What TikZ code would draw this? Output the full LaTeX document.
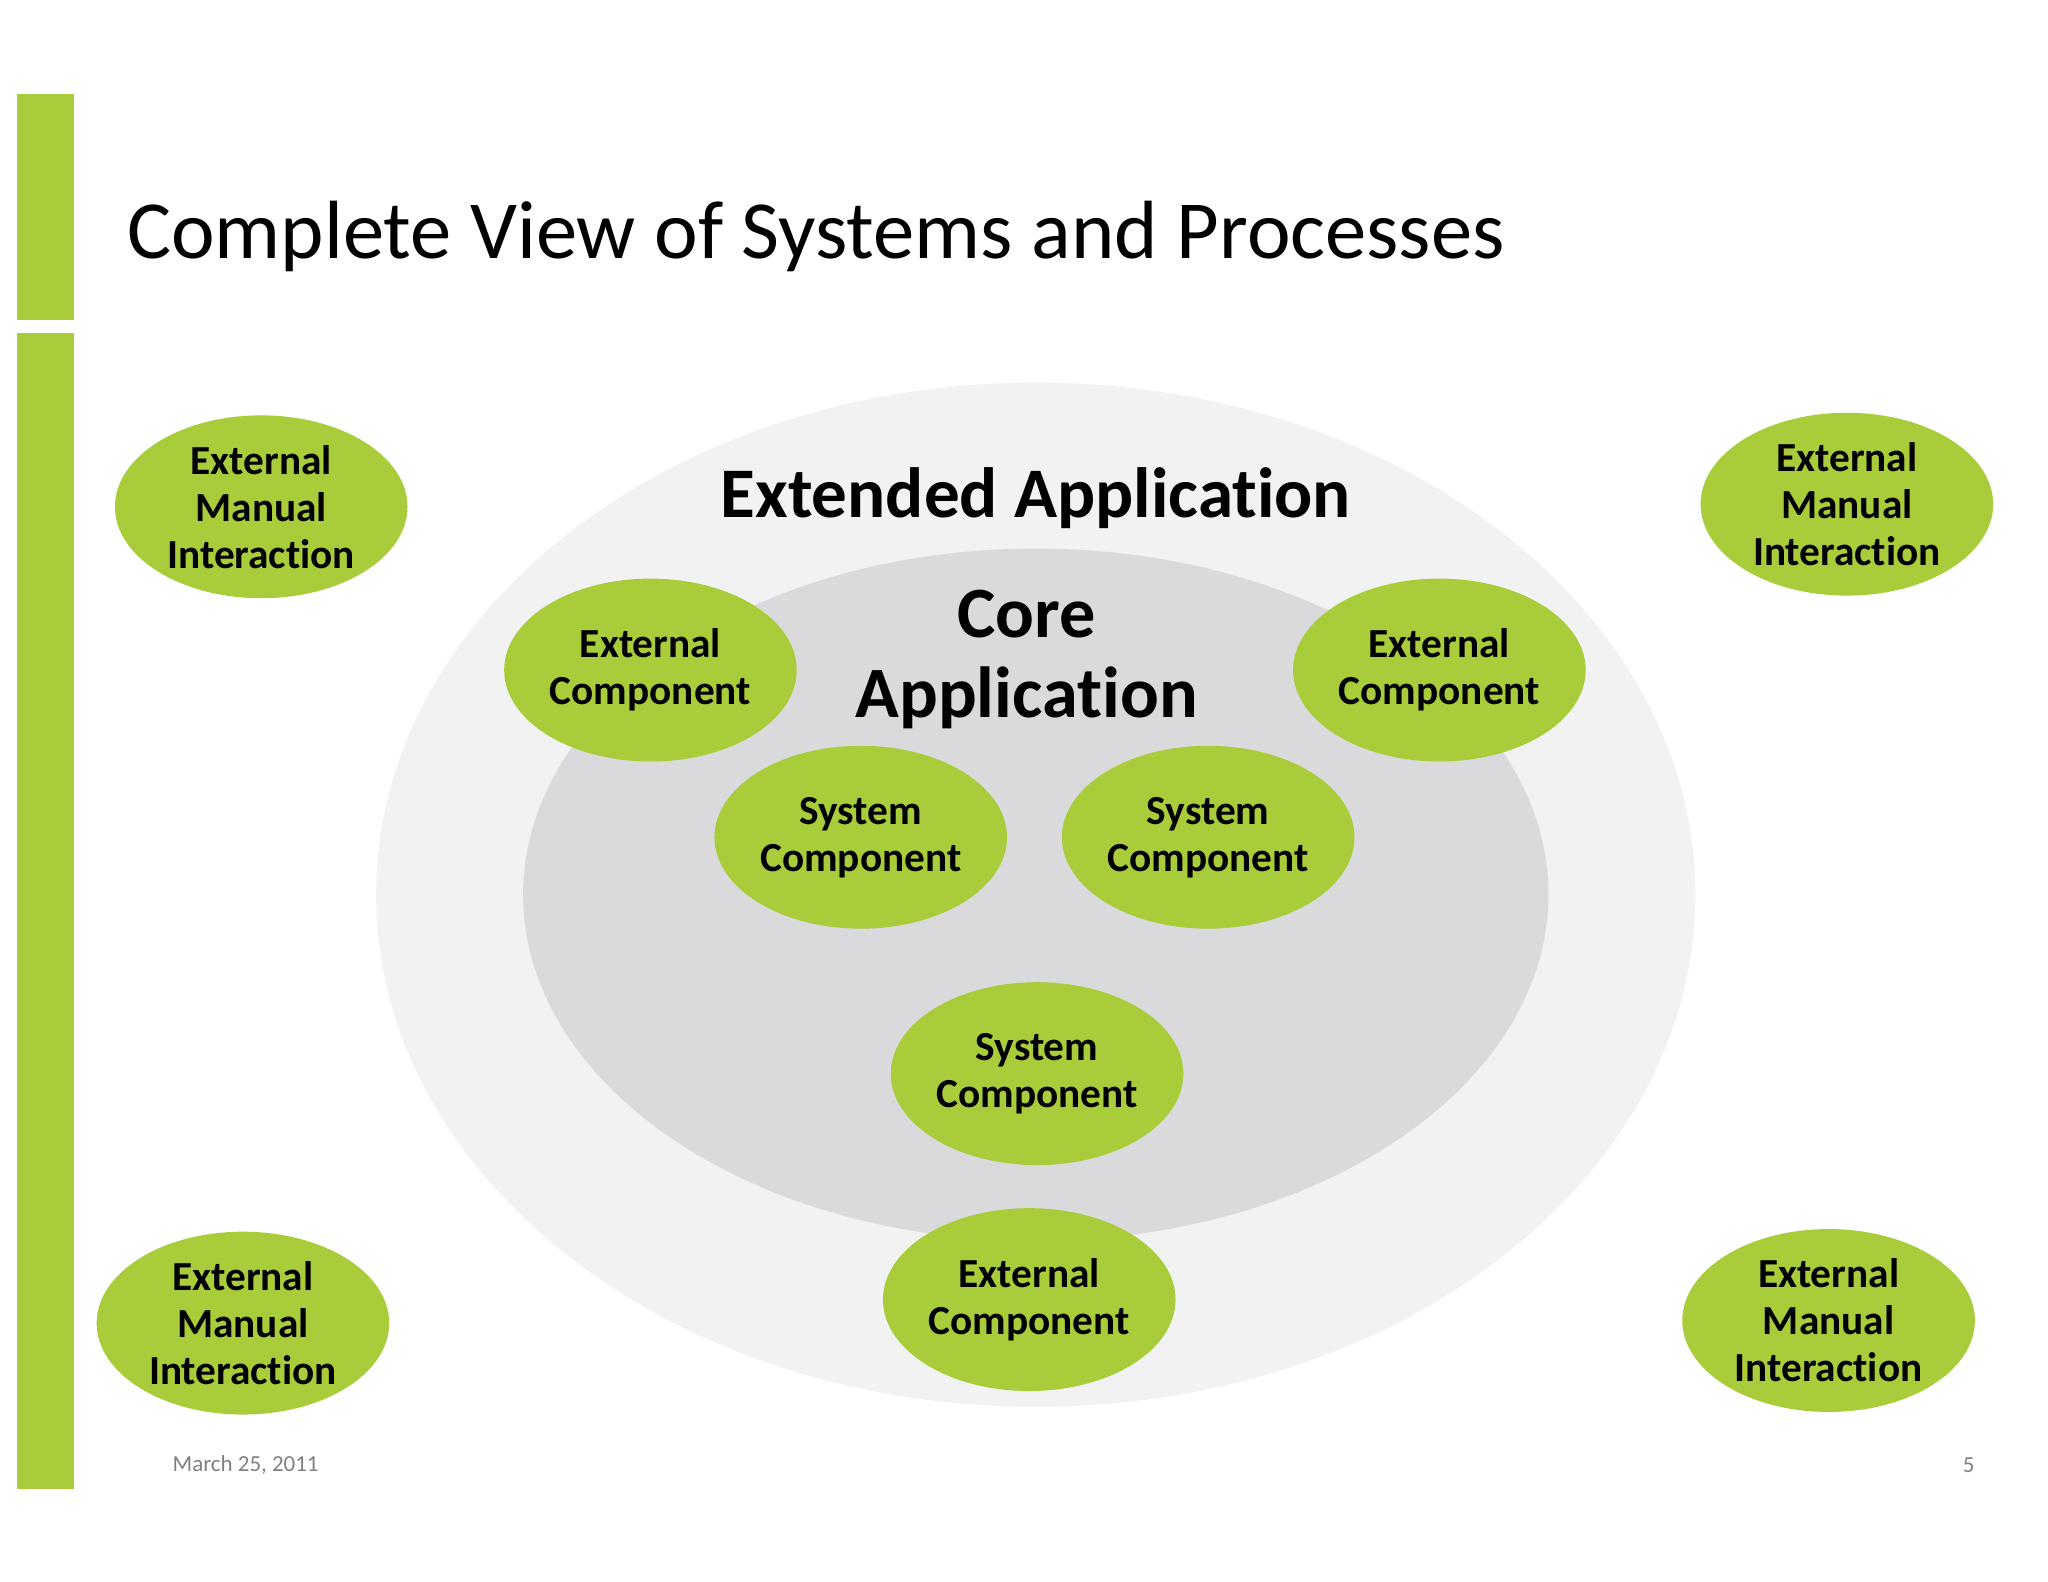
\documentclass[tikz,border=0pt]{standalone}
\usepackage{fontspec}
\setmainfont{Carlito}[RawFeature=-liga]
\usetikzlibrary{shapes.geometric}
\definecolor{grn}{HTML}{A8CC3A}
\definecolor{outer}{HTML}{F2F2F2}
\definecolor{inner}{HTML}{DADADC}
\begin{document}
\begin{tikzpicture}[x=0.02cm,y=-0.02cm,
  gs/.style={ellipse,fill=grn,minimum width=224*0.02cm,minimum height=140*0.02cm,inner sep=0pt,
    align=center,font=\fontsize{18}{20.5}\selectfont\bfseries}]
\useasboundingbox (0,0) rectangle (1568,1211);
\fill[white] (0,0) rectangle (1568,1211);
\fill[grn] (13,72) rectangle (57,245);
\fill[grn] (13,255) rectangle (57,1140);
\node[anchor=base west,inner sep=0pt,font=\fontsize{36}{40}\selectfont] (title) at (97,198) {Complete View of Systems and Processes};
\node[ellipse,fill=outer,minimum width=1010*0.02cm,minimum height=784*0.02cm,inner sep=0pt] (ext) at (793,685) {};
\node[ellipse,fill=inner,minimum width=785*0.02cm,minimum height=530*0.02cm,inner sep=0pt] (core) at (793,685) {};
\node[font=\fontsize{31}{36}\selectfont\bfseries] (extl) at (793,381) {Extended Application};
\node[font=\fontsize{31.5}{35}\selectfont\bfseries,align=center] (corel) at (786,505) {Core\\Application};
\node[gs] (emi1) at (200,388) {External\\Manual\\Interaction};
\node[gs] (emi2) at (1414,386) {External\\Manual\\Interaction};
\node[gs] (emi3) at (186,1013) {External\\Manual\\Interaction};
\node[gs] (emi4) at (1400,1011) {External\\Manual\\Interaction};
\node[gs] (ec1) at (498,513) {External\\Component};
\node[gs] (ec2) at (1102,513) {External\\Component};
\node[gs] (ec3) at (788,995) {External\\Component};
\node[gs] (sc1) at (659,641) {System\\Component};
\node[gs] (sc2) at (925,641) {System\\Component};
\node[gs] (sc3) at (794,822) {System\\Component};
\node[anchor=west,text=gray,font=\fontsize{10}{12}\selectfont] (date) at (126,1122) {March 25, 2011};
\node[anchor=east,text=gray,font=\fontsize{10}{12}\selectfont] (page) at (1518,1122) {5};
\end{tikzpicture}
\end{document}
